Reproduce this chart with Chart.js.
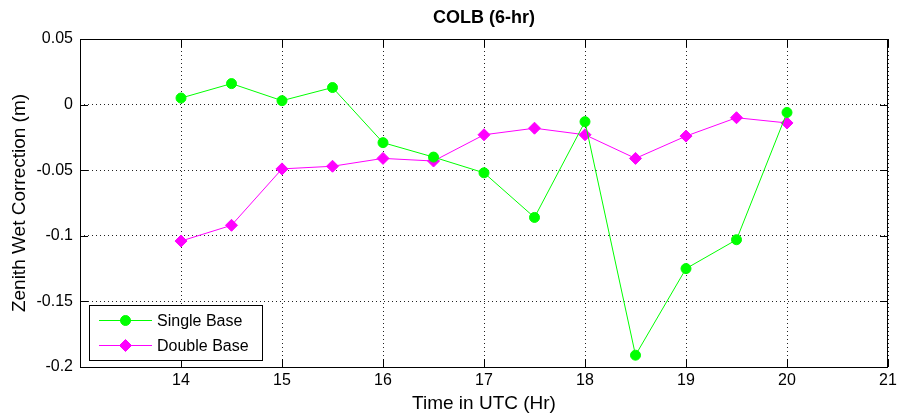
<!DOCTYPE html>
<html>
<head>
<meta charset="utf-8">
<title>COLB (6-hr)</title>
<script src="https://cdn.jsdelivr.net/npm/chart.js"></script>
<style>
  html, body { margin: 0; padding: 0; background: #fff; }
  canvas { display: block; }
</style>
</head>
<body>
<canvas id="colb" width="897" height="420"></canvas>
<script>
const hours = [14, 14.5, 15, 15.5, 16, 16.5, 17, 17.5, 18, 18.5, 19, 19.5, 20];
const singleBase = [0.005, 0.016, 0.003, 0.013, -0.029, -0.040, -0.052, -0.086, -0.013, -0.191, -0.125, -0.103, -0.006];
const doubleBase = [-0.104, -0.092, -0.049, -0.047, -0.041, -0.043, -0.023, -0.018, -0.023, -0.041, -0.024, -0.010, -0.014];

const xTicks = [14, 15, 16, 17, 18, 19, 20, 21];
const yTicks = [-0.2, -0.15, -0.1, -0.05, 0, 0.05];
const yTickLabels = ['-0.2', '-0.15', '-0.1', '-0.05', '0', '0.05'];

const titleText = 'COLB (6-hr)';
const xTitle = 'Time in UTC (Hr)';
const yTitle = 'Zenith Wet Correction (m)';

const FONT = '"Liberation Sans", Arial, Helvetica, sans-serif';

function toPoints(ys) {
  return hours.map((h, i) => ({ x: h, y: ys[i] }));
}

// axes box, inward tick marks, title and the legend box
const frame = {
  id: 'frame',
  afterDatasetsDraw(chart) {
    const { ctx, chartArea: a, scales } = chart;
    ctx.save();
    ctx.strokeStyle = '#000';
    ctx.lineWidth = 1;
    ctx.setLineDash([]);
    ctx.strokeRect(a.left + 0.5, a.top + 0.5, a.right - a.left - 1, a.bottom - a.top);

    const tl = 8;
    ctx.beginPath();
    xTicks.forEach(v => {
      const px = Math.round(scales.x.getPixelForValue(v)) + 0.5;
      ctx.moveTo(px, a.bottom); ctx.lineTo(px, a.bottom - tl);
      ctx.moveTo(px, a.top); ctx.lineTo(px, a.top + tl);
    });
    yTicks.forEach(v => {
      const py = Math.round(scales.y.getPixelForValue(v)) + 0.5;
      ctx.moveTo(a.left, py); ctx.lineTo(a.left + tl, py);
      ctx.moveTo(a.right, py); ctx.lineTo(a.right - tl, py);
    });
    ctx.stroke();

    ctx.fillStyle = '#000';
    ctx.font = 'bold 18px ' + FONT;
    ctx.textAlign = 'center';
    ctx.textBaseline = 'middle';
    ctx.fillText(titleText, (a.left + a.right) / 2, 18);
    ctx.restore();
  },
  afterDraw(chart) {
    const { ctx, chartArea: a } = chart;
    const bx = a.left + 9, by = a.bottom - 62, bw = 173, bh = 55;
    ctx.save();
    ctx.fillStyle = '#fff';
    ctx.fillRect(bx, by, bw, bh);
    ctx.strokeStyle = '#000';
    ctx.lineWidth = 1;
    ctx.strokeRect(bx + 0.5, by + 0.5, bw, bh);

    chart.data.datasets.forEach((ds, i) => {
      const ry = by + 15.5 + i * 25;
      const x0 = bx + 10, x1 = bx + 63, cx = (x0 + x1) / 2;
      ctx.strokeStyle = ds.borderColor;
      ctx.fillStyle = ds.backgroundColor;
      ctx.beginPath();
      ctx.moveTo(x0, ry); ctx.lineTo(x1, ry);
      ctx.stroke();
      ctx.beginPath();
      const r = ds.pointRadius;
      if (ds.pointStyle === 'rectRot') {
        ctx.moveTo(cx - r, ry); ctx.lineTo(cx, ry - r);
        ctx.lineTo(cx + r, ry); ctx.lineTo(cx, ry + r);
        ctx.closePath();
      } else {
        ctx.arc(cx, ry, r, 0, Math.PI * 2);
      }
      ctx.fill();
      ctx.stroke();

      ctx.fillStyle = '#000';
      ctx.font = '16px ' + FONT;
      ctx.textAlign = 'left';
      ctx.textBaseline = 'middle';
      ctx.fillText(ds.label, x1 + 5, ry + 1);
    });
    ctx.restore();
  }
};

new Chart(document.getElementById('colb'), {
  type: 'line',
  data: {
    datasets: [
      {
        label: 'Single Base',
        data: toPoints(singleBase),
        borderColor: '#00ff00',
        backgroundColor: '#00ff00',
        borderWidth: 1,
        pointStyle: 'circle',
        pointRadius: 5,
        pointBorderWidth: 1,
        tension: 0
      },
      {
        label: 'Double Base',
        data: toPoints(doubleBase),
        borderColor: '#ff00ff',
        backgroundColor: '#ff00ff',
        borderWidth: 1,
        pointStyle: 'rectRot',
        pointRadius: 6,
        pointBorderWidth: 1,
        tension: 0
      }
    ]
  },
  options: {
    responsive: false,
    animation: false,
    layout: { padding: { top: 39, right: 9, left: 0, bottom: 0 } },
    plugins: {
      legend: { display: false },
      title: { display: false },
      tooltip: { enabled: false }
    },
    scales: {
      x: {
        type: 'linear',
        min: 13,
        max: 21,
        afterBuildTicks: s => { s.ticks = xTicks.map(v => ({ value: v })); },
        afterFit: s => { s.height = 53; s.paddingLeft = 0; s.paddingRight = 0; },
        ticks: { color: '#000', font: { family: FONT, size: 16 }, padding: 4, maxRotation: 0 },
        grid: { color: '#222', lineWidth: 1, drawTicks: false },
        border: { display: false, dash: [1, 3] },
        title: { display: true, text: xTitle, color: '#000', font: { family: FONT, size: 19 }, padding: { top: 0, bottom: 5 } }
      },
      y: {
        type: 'linear',
        min: -0.2,
        max: 0.05,
        afterBuildTicks: s => { s.ticks = yTicks.map(v => ({ value: v })); },
        afterFit: s => { s.width = 80; s.paddingTop = 0; s.paddingBottom = 0; },
        ticks: {
          color: '#000',
          font: { family: FONT, size: 16 },
          padding: 7,
          callback: v => yTickLabels[yTicks.findIndex(t => Math.abs(t - v) < 1e-9)]
        },
        grid: { color: '#222', lineWidth: 1, drawTicks: false },
        border: { display: false, dash: [1, 3] },
        title: { display: true, text: yTitle, color: '#000', font: { family: FONT, size: 19 }, padding: { top: 8, bottom: 0 } }
      }
    }
  },
  plugins: [frame]
});
</script>
</body>
</html>
